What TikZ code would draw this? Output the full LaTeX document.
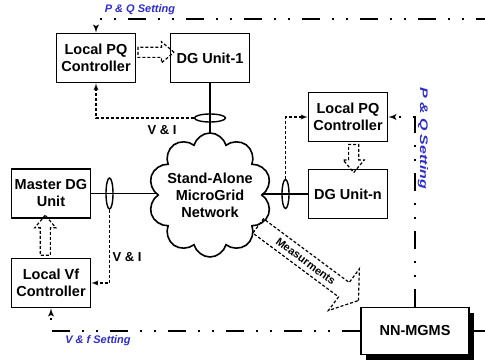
\documentclass[tikz,border=0pt]{standalone}
\usepackage{fontspec}
\setmainfont{Liberation Sans}
\usetikzlibrary{shapes, arrows, positioning, shadows, backgrounds}
\definecolor{setblue}{RGB}{45,45,205}

\begin{document}
\begin{tikzpicture}[auto,>=latex', x=1pt, y=1pt]

\tikzstyle{block} = [draw, shape=rectangle, minimum height=49pt, minimum width=79pt, line width=1.6pt, align=center, inner sep=1pt, font=\fontsize{14.5}{17}\selectfont\bfseries]
\tikzstyle{sensor} = [draw, shape=ellipse, line width=1.4pt, inner sep=0pt]
\tikzstyle{power} = [line width=1.6pt]
\tikzstyle{meas} = [line width=1.4pt, dash pattern=on 3pt off 2pt]
\tikzstyle{setting} = [line width=1.8pt, dash pattern=on 18pt off 12pt on 2pt off 12pt on 2pt off 12pt]
\tikzstyle{hollow} = [draw, single arrow, sloped, allow upside down, line width=1.2pt, dash pattern=on 3pt off 2pt, inner sep=4.5pt, single arrow head extend=5.5pt, single arrow tip angle=80]
\tikzstyle{setlabel} = [text=setblue, font=\fontsize{11}{12}\selectfont\bfseries\itshape]
\tikzstyle{vilabel} = [font=\fontsize{13}{14}\selectfont\bfseries]

\useasboundingbox (0,0) rectangle (485,362);
\clip (0,0) rectangle (485,362);

%Creating Blocks and Connection Nodes
\node[block] at (96,304) (pq1) {Local PQ\\Controller};
\node[block] at (210,304) (dg1) {DG Unit-1};
\node[block] at (348,245) (pqn) {Local PQ\\Controller};
\node[block] at (348,168) (dgn) {DG Unit-n};
\node[block] at (51,168.5) (master) {Master DG\\Unit};
\node[block] at (51,79) (vf) {Local Vf\\Controller};
\node[block, minimum width=108pt, minimum height=47pt, fill=white, drop shadow={shadow xshift=5pt, shadow yshift=-5pt, fill=black, opacity=1}] at (415,31) (nn) {NN-MGMS};
\node[draw, cloud, fill=white, line width=1.6pt, cloud puffs=10, aspect=1, minimum width=118pt, minimum height=124pt, inner sep=-6pt, align=center, font=\fontsize{14.5}{17}\selectfont\bfseries] at (210,167) (grid) {Stand-Alone\\MicroGrid\\Network};

%Sensors on the feeders
\node[sensor, minimum width=31pt, minimum height=8pt] at (210,244) (s1) {};
\node[sensor, minimum width=7pt, minimum height=31pt] at (109.5,168.5) (s2) {};
\node[sensor, minimum width=7pt, minimum height=29pt] at (285.5,168) (s3) {};
\coordinate (corner) at (500,343);

%Conecting Blocks
\begin{scope}[on background layer]
\draw[power] (dg1.south) -- (dg1.south |- grid.center);
\draw[power] (master.east) -- (master.east -| grid.center);
\draw[power] (dgn.west) -- (dgn.west -| grid.center);
\end{scope}
\draw[meas, ->] (s1.west) -| (pq1.south);
\draw[meas, ->] (s2.south) |- (vf.east);
\draw[meas, ->] (s3.north) |- (pqn.west);
\path (pq1) -- node[hollow, minimum height=36pt] (pqarrow1) {} (dg1);
\path (pqn) -- node[hollow, minimum height=28pt] (pqarrow2) {} (dgn);
\path (vf) -- node[hollow, minimum height=40pt] (vfarrow) {} (master);
\path ([yshift=-7pt]grid.center) -- node[hollow, pos=0.6, minimum height=125pt, inner sep=4.5pt, single arrow head extend=17pt, single arrow tip angle=110, font=\fontsize{11}{12}\selectfont\bfseries] (measarrow) {Measurments} ([yshift=-7pt]nn.north west);

%Setting signals from the NN-MGMS
\draw[setting, ->] (nn.east) -| (corner) -| (pq1.north);
\draw[setting, ->] (nn.north) |- (pqn.east);
\draw[setting, ->] (nn.west) -| (vf.south);

%Labels
\node[setlabel] at (140,352) (pqset1) {P \& Q Setting};
\node[setlabel, rotate=-90, xscale=1.45] at (423,224) (pqset2) {P \& Q Setting};
\node[setlabel] at (98,21) (vfset) {V \& f Setting};
\node[vilabel] at (162,232) (vi1) {V \& I};
\node[vilabel] at (127,105) (vi2) {V \& I};
\end{tikzpicture}
\end{document}
